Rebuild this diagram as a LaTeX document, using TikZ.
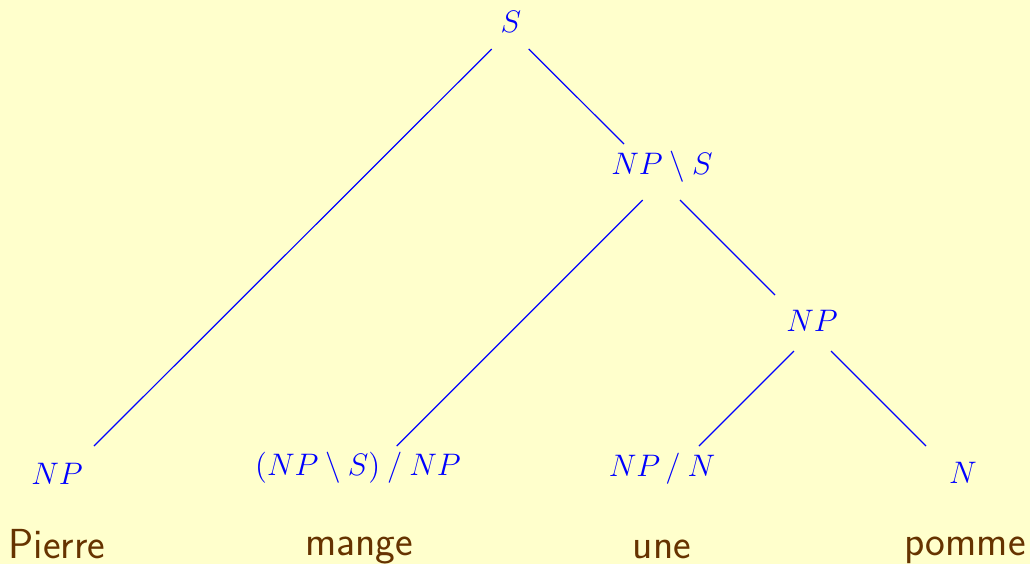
\documentclass[tikz,border=0pt]{standalone}
\usepackage{graphicx}
\usetikzlibrary{calc}
\definecolor{bg}{HTML}{FFFFCC}
\definecolor{catblue}{HTML}{0000FF}
\definecolor{wordbrown}{HTML}{663300}
\newcommand{\catmath}[1]{\scalebox{1.08}{$#1$}}
\begin{document}
\begin{tikzpicture}[x=0.5pt,y=-0.5pt,
  cat/.style={anchor=base,inner sep=0pt,text=catblue,font=\fontsize{14.4}{17}\selectfont},
  word/.style={anchor=base,inner sep=0pt,text=wordbrown,font=\fontsize{21}{24}\selectfont\sffamily},
  edge/.style={draw=catblue,line width=0.6pt}]
\fill[bg] (0,0) rectangle (1030,564);
\useasboundingbox (0,0) rectangle (1030,564);
\node[cat] (S) at (511,32) {\catmath{S}};
\node[cat] (NPS) at (662,174) {\catmath{NP \setminus S}};
\node[cat] (NPm) at (812,331) {\catmath{NP}};
\node[cat] (NPl) at (57,484) {\catmath{NP}};
\node[cat] (V) at (358,475) {\catmath{(NP \setminus S) \mathbin{/} NP}};
\node[cat] (D) at (662,476) {\catmath{NP \mathbin{/} N}};
\node[cat] (N) at (963,483) {\catmath{N}};
\node[word] (w1) at (57,558) {Pierre};
\node[word] (w2) at (359,555) {mange};
\node[word] (w3) at (662,558) {une};
\node[word] (w4) at (965,555) {pomme};
\draw[edge] ($(S.base)+(-19.3,17)$) -- ($(NPl.base)+(37,-38)$);
\draw[edge] ($(S.base)+(17.7,17)$) -- ($(NPS.base)+(-38,-30)$);
\draw[edge] ($(NPS.base)+(-19.3,26)$) -- ($(V.base)+(38.7,-29)$);
\draw[edge] ($(NPS.base)+(18,26)$) -- ($(NPm.base)+(-37,-36)$);
\draw[edge] ($(NPm.base)+(-18,20)$) -- ($(D.base)+(37,-30)$);
\draw[edge] ($(NPm.base)+(19,20)$) -- ($(N.base)+(-37,-37)$);
\end{tikzpicture}
\end{document}
